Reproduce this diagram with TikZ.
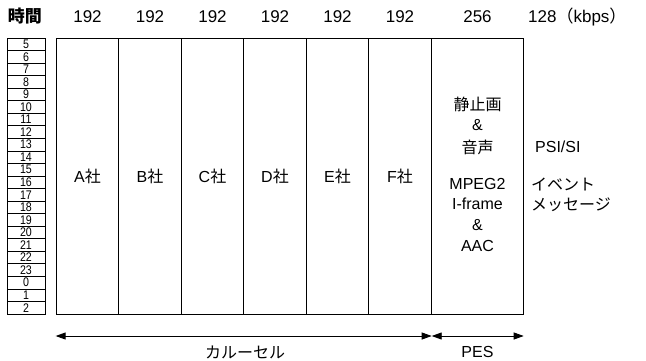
\documentclass[tikz,border=0pt]{standalone}
\usepackage{fontspec}
\setmainfont{Liberation Sans}
\newfontfamily\jp{Noto Sans CJK JP}
\usetikzlibrary{arrows.meta}
\begin{document}
\begin{tikzpicture}[x=1pt,y=-1pt,
  col/.style={draw=black,line width=0.9pt,minimum height=276pt,inner sep=0pt,font=\fontsize{16}{18}\selectfont},
  hdr/.style={font=\fontsize{17}{19}\selectfont,inner sep=0pt},
  trow/.style={draw=black,line width=0.8pt,minimum width=38pt,minimum height=12.545pt,inner sep=0pt,font=\fontsize{12.5}{12}\selectfont},
  lbl/.style={font=\fontsize{16}{18}\selectfont,inner sep=0pt},
  dim/.style={line width=0.9pt,{Triangle[length=10pt,width=7pt]}-{Triangle[length=10pt,width=7pt]}}]
\useasboundingbox (0,0) rectangle (646,360);
% header
\node[hdr] (hj) at (25,16) {\jp\bfseries 時間};
\foreach \x/\n in {87.5/h1,150/h2,212.5/h3,275/h4,337.5/h5,400/h6}{
  \node[hdr] (\n) at (\x,17) {192};}
\node[hdr] (h7) at (477.5,17) {256};
\node[hdr,anchor=west] (h8) at (528,17) {128{\jp （}kbps{\jp ）}};
% time column
\foreach \t [count=\i] in {5,6,7,8,9,10,11,12,13,14,15,16,17,18,19,20,21,22,23,0,1,2}{
  \node[trow] (t\i) at (26,{38+12.545*(\i-0.5)}) {\scalebox{0.85}[1]{\t}};}
% columns
\node[col,minimum width=62.8pt] (A) at (87.5,176) {A{\jp 社}};
\node[col,minimum width=62.5pt] (B) at (150,176) {B{\jp 社}};
\node[col,minimum width=62.5pt] (C) at (212.5,176) {C{\jp 社}};
\node[col,minimum width=62.5pt] (D) at (275,176) {D{\jp 社}};
\node[col,minimum width=62.5pt] (E) at (337.5,176) {E{\jp 社}};
\node[col,minimum width=62.5pt] (F) at (400,176) {F{\jp 社}};
\node[col,minimum width=91.5pt] (P) at (477.5,176) {};
% PES contents
\node[lbl] (p1) at (477.5,104) {\jp 静止画};
\node[lbl] (p2) at (477.5,125) {\&};
\node[lbl] (p3) at (477.5,147) {\jp 音声};
\node[lbl] (p4) at (477.5,184) {MPEG2};
\node[lbl] (p5) at (477.5,204) {I-frame};
\node[lbl] (p6) at (477.5,225) {\&};
\node[lbl] (p7) at (477.5,246) {AAC};
% right side
\node[lbl,anchor=west] (r1) at (535,147) {PSI/SI};
\node[lbl,anchor=west] (r2) at (531,184) {\jp イベント};
\node[lbl,anchor=west] (r3) at (531,205) {\jp メッセージ};
% arrows
\coordinate (a0) at (A.south west |- 0,336);
\coordinate (a1) at (F.south east |- 0,336);
\coordinate (a2) at (P.south east |- 0,336);
\draw[dim] (a0) -- (a1);
\draw[dim] (a1) -- (a2);
\node[lbl] (car) at (245,352) {\jp カルーセル};
\node[lbl] (pes) at (477.5,352) {PES};
\end{tikzpicture}
\end{document}
